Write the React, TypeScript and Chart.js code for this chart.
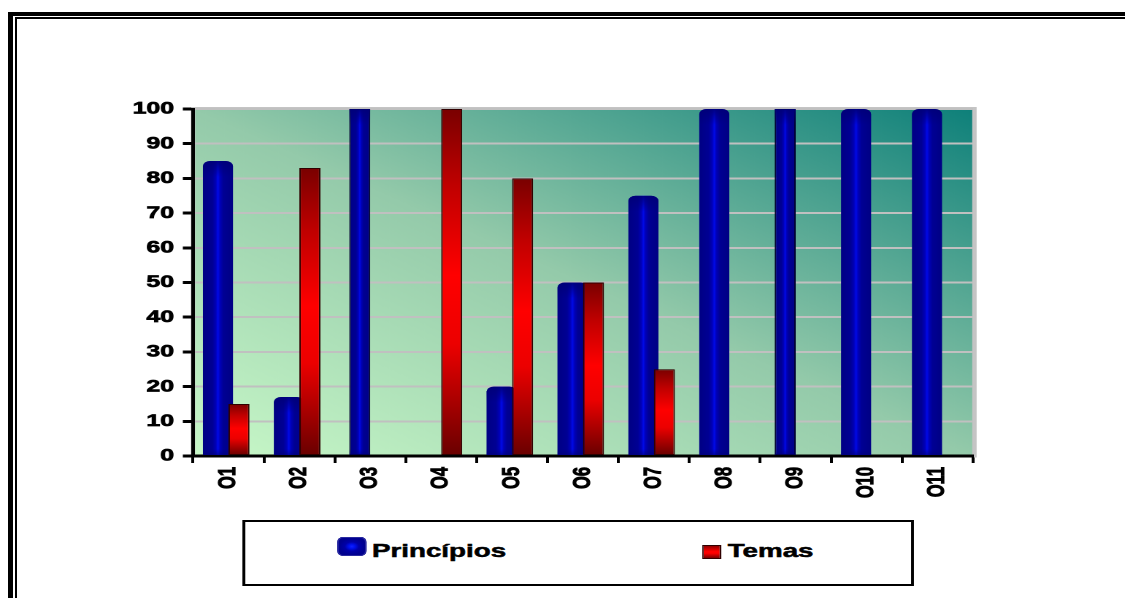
import React, { useEffect, useRef } from 'react';
import { Chart, registerables } from 'chart.js';

Chart.register(...registerables);

// ---------- data ----------
const CATEGORIES = ['O1', 'O2', 'O3', 'O4', 'O5', 'O6', 'O7', 'O8', 'O9', 'O10', 'O11'];
const PRINCIPIOS = [85, 17, 100, 0, 20, 50, 75, 100, 100, 100, 100];
const TEMAS = [15, 83, 0, 100, 80, 50, 25, 0, 0, 0, 0];
const SERIES_LABELS = ['Princípios', 'Temas'];
// categories whose "Princípios" bar is drawn as a plain (square) column
const FLAT_PRINCIPIOS = ['O3', 'O9'];
const Y_MIN = 0;
const Y_MAX = 100;
const Y_STEP = 10;

// ---------- layout (the original picture is horizontally stretched) ----------
const SX = 1.46;
const LOGICAL_W = 771;
const H = 598;
const FONT = "'Liberation Sans', Arial, Helvetica, sans-serif";

const roundData = PRINCIPIOS.map((v, i) => (FLAT_PRINCIPIOS.includes(CATEGORIES[i]) ? null : v));
const flatData = PRINCIPIOS.map((v, i) => (FLAT_PRINCIPIOS.includes(CATEGORIES[i]) ? v : null));
const KINDS = ['round', 'flat', 'red'];

const backgroundPlugin = {
  id: 'plotBackground',
  beforeDraw(chart: any) {
    const { ctx, chartArea } = chart;
    const { left, top, right, bottom } = chartArea;
    const w = right - left;
    const h = bottom - top;
    ctx.save();
    ctx.translate(left, top);
    ctx.scale(w, h);
    const g = ctx.createLinearGradient(0, 1, 1, 0);
    g.addColorStop(0, '#c8f8c8');
    g.addColorStop(0.5, '#94caaa');
    g.addColorStop(1, '#0e807a');
    ctx.fillStyle = g;
    ctx.fillRect(0, 0, 1, 1);
    ctx.restore();
    // light grey frame of the plot area
    ctx.save();
    ctx.strokeStyle = '#c4c4c4';
    ctx.lineWidth = 3;
    ctx.strokeRect(left, top - 0.5, w + 1, h + 0.5);
    ctx.restore();
  },
};

const barsPlugin = {
  id: 'shadedBars',
  beforeDatasetsDraw(chart: any) {
    const ctx = chart.ctx;
    const area = chart.chartArea;
    const metas = chart.getSortedVisibleDatasetMetas();
    metas.forEach((meta: any) => {
      const kind = KINDS[meta.index];
      meta.data.forEach((el: any) => {
        const { x, y, base, width } = el.getProps(['x', 'y', 'base', 'width'], true);
        if (!isFinite(y) || !isFinite(base) || Math.abs(base - y) < 0.5) return;
        const left = x - width / 2;
        let grad: CanvasGradient;
        if (kind === 'red') {
          grad = ctx.createLinearGradient(0, y, 0, base);
          grad.addColorStop(0, '#7a0000');
          grad.addColorStop(0.22, '#c00000');
          grad.addColorStop(0.48, '#ff0000');
          grad.addColorStop(0.68, '#ec0000');
          grad.addColorStop(1, '#6a0000');
        } else {
          grad = ctx.createLinearGradient(left, 0, left + width, 0);
          grad.addColorStop(0, '#000084');
          grad.addColorStop(0.32, '#000094');
          grad.addColorStop(0.43, '#0000b8');
          grad.addColorStop(0.5, '#000ae8');
          grad.addColorStop(0.57, '#0000b8');
          grad.addColorStop(0.68, '#000094');
          grad.addColorStop(1, '#000084');
        }
        const orig = el.options;
        el.options = Object.assign({}, orig, { backgroundColor: grad });
        el.draw(ctx, area);
        el.options = orig;
        if (kind !== 'red') {
          const h = base - y;
          const r = kind === 'round' ? Math.min(5, width / 2, h) : 0;
          ctx.save();
          ctx.beginPath();
          (ctx as any).roundRect(left, y, width, h, [r, r, 0, 0]);
          ctx.clip();
          const g2 = ctx.createLinearGradient(0, y, 0, base);
          const tf = Math.min(0.4, 16 / h);
          const bf = Math.min(0.2, 6 / h);
          g2.addColorStop(0, 'rgba(0,0,120,0.9)');
          g2.addColorStop(tf, 'rgba(0,0,120,0)');
          g2.addColorStop(1 - bf, 'rgba(0,0,120,0)');
          g2.addColorStop(1, 'rgba(0,0,120,0.6)');
          ctx.fillStyle = g2;
          ctx.fillRect(left, y, width, h);
          ctx.restore();
        }
      });
    });
    return false;
  },
};

export default function App() {
  const canvasRef = useRef<HTMLCanvasElement>(null);

  useEffect(() => {
    const chart = new Chart(canvasRef.current as HTMLCanvasElement, {
      type: 'bar',
      data: {
        labels: CATEGORIES,
        datasets: [
          {
            label: SERIES_LABELS[0],
            data: roundData,
            stack: 'p',
            backgroundColor: '#000090',
            barPercentage: 1.43,
            categoryPercentage: 0.593,
            borderRadius: { topLeft: 5, topRight: 5, bottomLeft: 0, bottomRight: 0 },
            borderWidth: 0,
          },
          {
            label: SERIES_LABELS[0],
            data: flatData,
            stack: 'p',
            backgroundColor: '#000090',
            barPercentage: 1.0,
            categoryPercentage: 0.593,
            borderWidth: 1,
            borderColor: '#000030',
            borderSkipped: false,
          },
          {
            label: SERIES_LABELS[1],
            data: TEMAS,
            stack: 't',
            backgroundColor: '#ff0000',
            barPercentage: 1.0,
            categoryPercentage: 0.593,
            borderWidth: 1,
            borderColor: '#300000',
            borderSkipped: false,
          },
        ] as any,
      },
      options: {
        animation: false,
        responsive: true,
        maintainAspectRatio: false,
        devicePixelRatio: 2,
        layout: { padding: { left: 0, top: 109, right: LOGICAL_W - 666.4, bottom: H - 456 - 60 } },
        plugins: {
          legend: { display: false },
          tooltip: { enabled: false },
        },
        scales: {
          x: {
            type: 'category',
            offset: true,
            grid: {
              display: true,
              drawOnChartArea: false,
              drawTicks: true,
              tickLength: 7,
              tickWidth: 2,
              tickColor: '#000',
              offset: true,
            },
            border: { display: true, color: '#000', width: 3 },
            ticks: {
              color: '#000',
              font: { family: FONT, size: 16.5, weight: 'bold' },
              textStrokeColor: '#000',
              textStrokeWidth: 0.7,
              minRotation: 90,
              maxRotation: 90,
              padding: 4,
              autoSkip: false,
            },
            afterFit: (s: any) => {
              s.height = 60;
            },
          },
          y: {
            min: Y_MIN,
            max: Y_MAX,
            stacked: false,
            grid: {
              color: '#c0c0c0',
              lineWidth: 2,
              tickColor: '#000',
              tickWidth: 3,
              tickLength: 7,
              drawOnChartArea: true,
            },
            border: { display: true, color: '#000', width: 2.5 },
            ticks: {
              stepSize: Y_STEP,
              color: '#000',
              font: { family: FONT, size: 17, weight: 'bold' },
              textStrokeColor: '#000',
              textStrokeWidth: 0.7,
              padding: 6,
            },
            afterFit: (s: any) => {
              s.width = 132.2;
            },
          },
        },
      } as any,
      plugins: [backgroundPlugin, barsPlugin],
    });
    return () => chart.destroy();
  }, []);

  const legendText: React.CSSProperties = {
    position: 'absolute',
    top: 19.4,
    fontFamily: FONT,
    fontWeight: 'bold',
    fontSize: 19,
    lineHeight: '19px',
    color: '#000',
    whiteSpace: 'nowrap',
    WebkitTextStroke: '0.5px #000',
  };

  return (
    <div style={{ position: 'fixed', inset: 0, overflow: 'hidden', background: '#fff' }}>
      <div
        style={{
          position: 'absolute',
          left: 8,
          top: 12,
          width: 1400,
          height: 900,
          borderStyle: 'solid',
          borderColor: '#000',
          borderWidth: '4px 5px 5px 5px',
          boxSizing: 'border-box',
        }}
      />
      <div
        style={{
          position: 'absolute',
          left: 15,
          top: 17,
          width: 1400,
          height: 900,
          border: '2px solid #000',
          boxSizing: 'border-box',
        }}
      />
      <div
        style={{
          position: 'absolute',
          left: 0,
          top: 0,
          width: LOGICAL_W,
          height: H,
          transform: `scaleX(${SX})`,
          transformOrigin: '0 0',
        }}
      >
        <div style={{ position: 'absolute', left: 0, top: 0, width: LOGICAL_W, height: H }}>
          <canvas ref={canvasRef} />
        </div>
        <div
          style={{
            position: 'absolute',
            left: 166.4,
            top: 520,
            width: 459.6,
            height: 66,
            border: '2px solid #000',
            boxSizing: 'border-box',
            background: '#fff',
          }}
        >
          <div
            style={{
              position: 'absolute',
              left: 63.1,
              top: 15,
              width: 19.2,
              height: 19,
              borderRadius: '4px / 5px',
              background:
                'radial-gradient(ellipse at center, #1020ff 0%, #0010f0 14%, #0000a8 34%, #000090 60%, #000088 100%)',
              boxShadow: 'inset 0 0 0 1px #2a2aa0',
            }}
          />
          <span style={{ ...legendText, left: 86.4 }}>{SERIES_LABELS[0]}</span>
          <div
            style={{
              position: 'absolute',
              left: 312.2,
              top: 23,
              width: 13,
              height: 14,
              boxSizing: 'border-box',
              border: '1px solid #300000',
              background: 'linear-gradient(to bottom, #900000 0%, #ff0000 45%, #ff0000 60%, #780000 100%)',
            }}
          />
          <span style={{ ...legendText, left: 330 }}>{SERIES_LABELS[1]}</span>
        </div>
      </div>
    </div>
  );
}
